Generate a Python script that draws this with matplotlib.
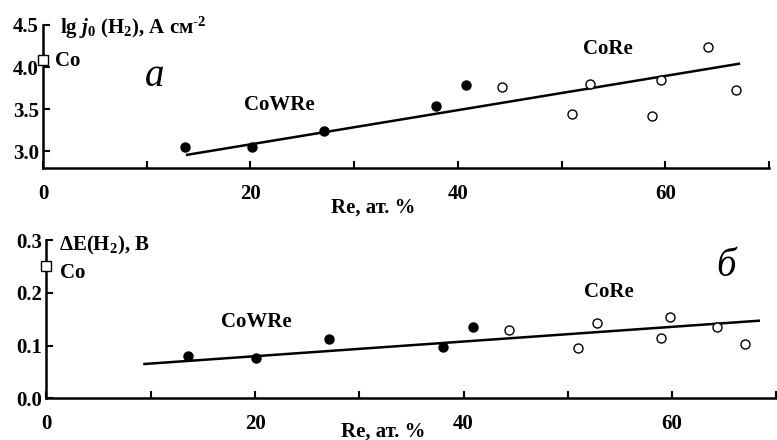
import matplotlib
matplotlib.use("Agg")
import matplotlib.pyplot as plt
import numpy as np

plt.rcParams['font.family'] = ['Liberation Serif', 'DejaVu Serif']
plt.rcParams['font.weight'] = 'bold'
plt.rcParams['mathtext.fontset'] = 'custom'
plt.rcParams['mathtext.rm'] = 'Liberation Serif:bold'
plt.rcParams['mathtext.it'] = 'Liberation Serif:bold:italic'
plt.rcParams['mathtext.bf'] = 'Liberation Serif:bold'

# Panel a: lg j0(H2)
cowre_x_a = [13.7, 20.2, 27.1, 37.9, 40.8]
cowre_y_a = [3.05, 3.05, 3.24, 3.54, 3.79]
core_x_a = [44.3, 51.0, 52.7, 58.7, 59.6, 64.1, 66.8]
core_y_a = [3.77, 3.44, 3.80, 3.42, 3.85, 4.24, 3.73]
co_a = 4.08
fit_x_a = [13.9, 67.1]
fit_y_a = [2.96, 4.04]

# Panel b: dE(H2)
cowre_x_b = [13.6, 20.1, 27.1, 38.0, 40.9]
cowre_y_b = [0.080, 0.077, 0.112, 0.098, 0.136]
core_x_b = [44.4, 51.0, 52.8, 58.9, 59.8, 64.3, 67.0]
core_y_b = [0.129, 0.096, 0.142, 0.115, 0.154, 0.135, 0.102]
co_b = 0.25
fit_x_b = [9.4, 68.3]
fit_y_b = [0.065, 0.147]

xticks_major = [0, 20, 40, 60]
xticks_all = [0, 10, 20, 30, 40, 50, 60, 70]

fig = plt.figure(figsize=(7.77, 4.40), dpi=100)
axa = fig.add_axes([0.0553, 0.6175, 0.9344, 0.3257])
axb = fig.add_axes([0.0598, 0.0948, 0.9395, 0.3597])

FS = 15

def style(ax, ylim, yticks, ylabels):
    for s in ['top', 'right']:
        ax.spines[s].set_visible(False)
    for s in ['left', 'bottom']:
        ax.spines[s].set_linewidth(1.8)
    ax.set_xlim(0, 70)
    ax.set_ylim(*ylim)
    ax.set_xticks(xticks_all)
    ax.set_xticklabels(['' if t not in xticks_major else str(t) for t in xticks_all])
    ax.set_yticks(yticks)
    ax.set_yticklabels(ylabels)
    ax.tick_params(direction='in', length=5, width=1.5, labelsize=FS)
    ax.tick_params(axis='x', pad=11)
    ax.tick_params(axis='y', pad=3)
    for lbl in ax.get_xticklabels() + ax.get_yticklabels():
        lbl.set_fontweight('bold')

def draw(ax, cx, cy, ox, oy, co, fx, fy):
    ax.plot(fx, fy, color='black', lw=1.8, zorder=2)
    ax.plot(cx, cy, 'o', color='black', ms=6.5, zorder=3, clip_on=False)
    ax.plot(ox, oy, 'o', mfc='white', mec='black', mew=1.0, ms=6.5, zorder=3, clip_on=False)
    ax.plot([0], [co], 's', mfc='white', mec='black', mew=1.0, ms=7, zorder=4, clip_on=False)

# ---- panel a
style(axa, (2.8, 4.5), [3.0, 3.5, 4.0, 4.5], ['3.0', '3.5', '4.0', '4.5'])
draw(axa, cowre_x_a, cowre_y_a, core_x_a, core_y_a, co_a, fit_x_a, fit_y_a)
axa.text(1.6, 4.46, r'lg $\mathit{j}_{\mathit{0}}$ (H$_2$), А см$^{‐2}$', fontsize=FS,
         fontweight='bold', va='center', ha='left', clip_on=False)
axa.text(1.15, 4.07, 'Co', fontsize=FS, fontweight='bold', va='center', ha='left')
axa.text(10.8, 3.89, 'а', fontsize=28, fontweight='normal', style='italic', va='center', ha='center')
axa.text(22.8, 3.55, 'CoWRe', fontsize=FS, fontweight='bold', va='center', ha='center')
axa.text(54.5, 4.22, 'CoRe', fontsize=FS, fontweight='bold', va='center', ha='center')
axa.text(31.8, 2.33, 'Re, ат. %', fontsize=FS, fontweight='bold', va='center', ha='center', clip_on=False)

# ---- panel b
style(axb, (0.0, 0.3), [0.0, 0.1, 0.2, 0.3], ['0.0', '0.1', '0.2', '0.3'])
draw(axb, cowre_x_b, cowre_y_b, core_x_b, core_y_b, co_b, fit_x_b, fit_y_b)
axb.text(1.2, 0.29, r'ΔE(H$_2$), В', fontsize=FS, fontweight='bold', va='center', ha='left', clip_on=False)
axb.text(1.3, 0.237, 'Co', fontsize=FS, fontweight='bold', va='center', ha='left')
axb.text(65.2, 0.25, 'б', fontsize=28, fontweight='normal', style='italic', va='center', ha='center')
axb.text(20.1, 0.145, 'CoWRe', fontsize=FS, fontweight='bold', va='center', ha='center')
axb.text(53.9, 0.2015, 'CoRe', fontsize=FS, fontweight='bold', va='center', ha='center')
axb.text(32.3, -0.063, 'Re, ат. %', fontsize=FS, fontweight='bold', va='center', ha='center', clip_on=False)

fig.savefig('out.png', dpi=100)
